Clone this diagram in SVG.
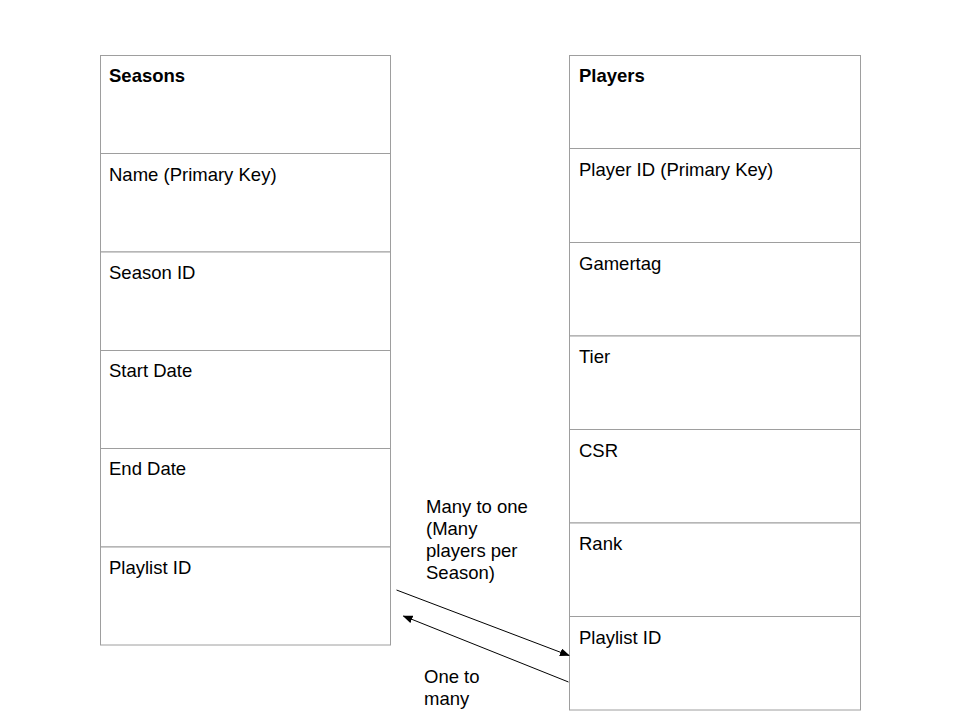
<svg xmlns="http://www.w3.org/2000/svg" width="960" height="720" viewBox="0 0 960 720">
<style>
.cell{fill:#fff;stroke:#9e9e9e;stroke-width:1}
.t{font-family:"Liberation Sans",Arial,sans-serif;font-size:18.5px;fill:#000}
.b{font-weight:bold}
.c{stroke:#000;stroke-width:1;fill:none}
</style>
<defs>
<marker id="ah" markerWidth="10" markerHeight="8" refX="9" refY="4" orient="auto" markerUnits="userSpaceOnUse">
<path d="M0,0 L10,4 L0,8 Z" fill="#000"/>
</marker>
</defs>
<rect width="960" height="720" fill="#fff"/>
<g id="seasons">
<rect class="cell" x="100.5" y="55.5" width="290" height="98"/>
<rect class="cell" x="100.5" y="153.5" width="290" height="98.5"/>
<rect class="cell" x="100.5" y="252" width="290" height="98.5"/>
<rect class="cell" x="100.5" y="350.5" width="290" height="98"/>
<rect class="cell" x="100.5" y="448.5" width="290" height="98.5"/>
<rect class="cell" x="100.5" y="547" width="290" height="98"/>
<text class="t b" x="109" y="82">Seasons</text>
<text class="t" x="109" y="181">Name (Primary Key)</text>
<text class="t" x="109" y="279">Season ID</text>
<text class="t" x="109" y="377">Start Date</text>
<text class="t" x="109" y="475">End Date</text>
<text class="t" x="109" y="574">Playlist ID</text>
</g>
<g id="players">
<rect class="cell" x="569.5" y="55.5" width="291" height="93"/>
<rect class="cell" x="569.5" y="148.5" width="291" height="94"/>
<rect class="cell" x="569.5" y="242.5" width="291" height="93.5"/>
<rect class="cell" x="569.5" y="336" width="291" height="93.5"/>
<rect class="cell" x="569.5" y="429.5" width="291" height="93.5"/>
<rect class="cell" x="569.5" y="523" width="291" height="93.5"/>
<rect class="cell" x="569.5" y="616.5" width="291" height="93.5"/>
<text class="t b" x="579" y="82">Players</text>
<text class="t" x="579" y="176">Player ID (Primary Key)</text>
<text class="t" x="579" y="270">Gamertag</text>
<text class="t" x="579" y="363">Tier</text>
<text class="t" x="579" y="457">CSR</text>
<text class="t" x="579" y="550">Rank</text>
<text class="t" x="579" y="644">Playlist ID</text>
</g>
<g id="connectors">
<line class="c" x1="396.5" y1="590" x2="569" y2="655.5" marker-end="url(#ah)"/>
<line class="c" x1="568.5" y1="682" x2="403.5" y2="616" marker-end="url(#ah)"/>
</g>
<g id="labels">
<text class="t" x="426" y="513">Many to one</text>
<text class="t" x="426" y="535">(Many</text>
<text class="t" x="426" y="557">players per</text>
<text class="t" x="426" y="579">Season)</text>
<text class="t" x="424" y="683">One to</text>
<text class="t" x="424" y="705">many</text>
</g>
</svg>
